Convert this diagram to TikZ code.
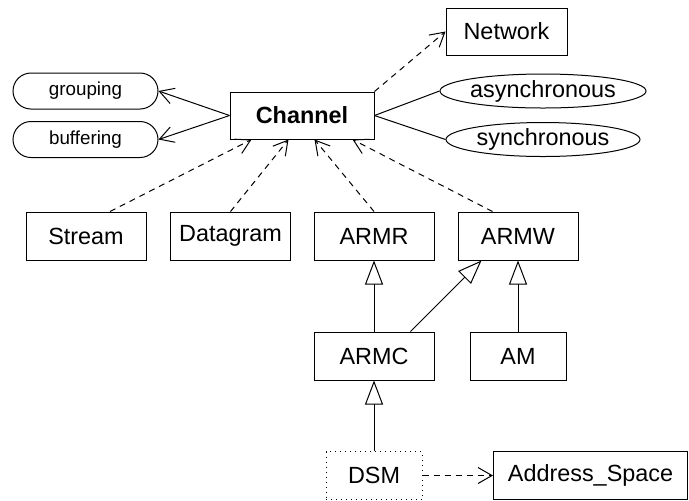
\documentclass[tikz,border=0pt]{standalone}
\usepackage{fontspec}
\setmainfont{Liberation Sans}
\usetikzlibrary{arrows.meta,positioning,shapes.geometric,calc}
\tikzset{
  cls/.style={draw,line width=0.5pt,minimum width=60pt,minimum height=24pt,
              inner sep=0pt,font=\fontsize{11.7}{14}\selectfont},
  pill/.style={draw,line width=0.5pt,rounded corners=9pt,minimum width=72.5pt,
               minimum height=18pt,inner sep=0pt,font=\fontsize{9.4}{11}\selectfont},
  attr/.style={draw,ellipse,line width=0.5pt,minimum width=97pt,minimum height=17pt,
               inner sep=0pt,font=\fontsize{11.7}{14}\selectfont},
  deparr/.style={-{Straight Barb[length=7pt,width=8pt]},dash pattern=on 3pt off 2.5pt,line width=0.5pt},
  assarr/.style={-{Straight Barb[length=7pt,width=8pt]},line width=0.5pt},
  genarr/.style={-{Triangle[open,length=12pt,width=9pt]},line width=0.5pt}
}
\begin{document}
\begin{tikzpicture}[x=0.5pt,y=-0.5pt]
  \useasboundingbox (0,0) rectangle (689,500);
  % ---- core class and its features ----
  \node[cls,minimum width=72pt,minimum height=23.5pt,font=\fontsize{11.7}{14}\selectfont\bfseries]
    (chan) at (302,115.5) {Channel};
  \node[cls,minimum width=60.5pt,minimum height=23.5pt] (net) at (506.5,31.5) {Network};
  \node[attr] (async) at (543,91) {asynchronous};
  \node[attr] (sync) at (543,139.5) {synchronous};
  \node[pill] (grp) at (85.5,91) {grouping};
  \node[pill] (buf) at (85.5,139.5) {buffering};
  % ---- channel kinds ----
  \node[cls] (stream) at (86,236) {Stream};
  \node[cls] (dgram) at (230.5,236) {Datagram};
  \node[cls] (armr) at (374,236) {ARMR};
  \node[cls] (armw) at (518,236) {ARMW};
  \node[cls] (armc) at (374,356) {ARMC};
  \node[cls,minimum width=48pt] (am) at (518,356) {AM};
  \node[cls,minimum width=48pt,dotted] (dsm) at (374,475.5) {DSM};
  \node[cls,minimum width=97pt] (addr) at (590.5,475.5) {Address\_Space};
  % ---- connectors ----
  \draw[assarr] (chan.west) -- (grp.east);
  \draw[assarr] (chan.west) -- (buf.east);
  \draw[line width=0.5pt] (chan.east) -- (async.west);
  \draw[line width=0.5pt] (chan.east) -- (sync.west);
  \draw[deparr] (chan.north east) -- (net.west);
  \draw[deparr] ($(stream.north)+(24,0)$) -- ($(chan.south west)+(22,0)$);
  \draw[deparr] (dgram.north) -- ($(chan.south west)+(59,0)$);
  \draw[deparr] (armr.north) -- ($(chan.south west)+(85,0)$);
  \draw[deparr] ($(armw.north west)+(35,0)$) -- ($(chan.south east)+(-22,0)$);
  \draw[genarr] (armc.north) -- (armr.south);
  \draw[genarr] ($(armc.north east)+(-24,0)$) -- ($(armw.south west)+(24,0)$);
  \draw[genarr] (am.north) -- (armw.south);
  \draw[genarr] (dsm.north) -- (armc.south);
  \draw[deparr] (dsm.east) -- (addr.west);
\end{tikzpicture}
\end{document}
